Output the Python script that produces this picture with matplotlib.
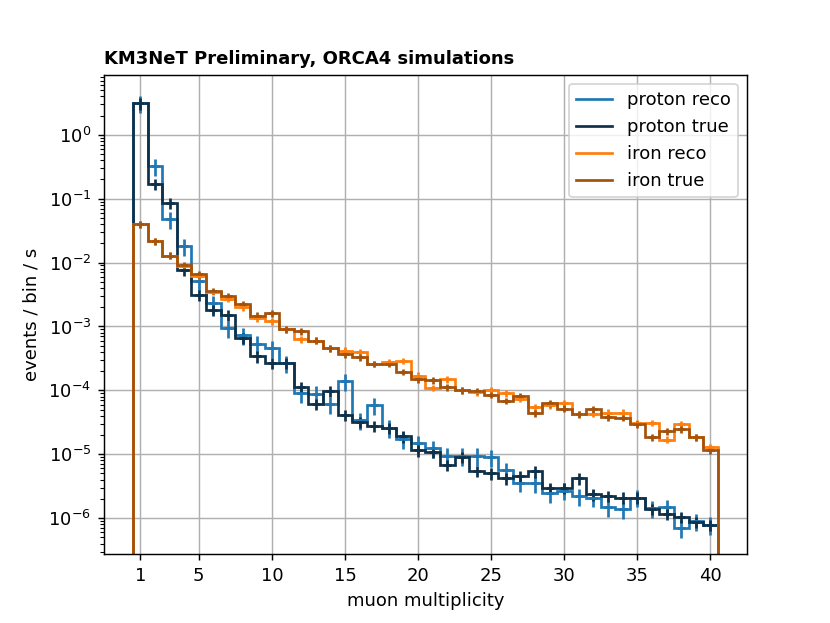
import numpy as np
import matplotlib
matplotlib.use('Agg')
import matplotlib.pyplot as plt

# muon multiplicity bins 1..40
multiplicity = list(range(1, 41))
bin_edges = [m - 0.5 for m in multiplicity] + [40.5]

# events / bin / s
proton_reco = [3.1, 0.32, 0.048, 0.018, 0.0052, 0.0023, 9.5e-4, 7.4e-4, 5.4e-4, 4.6e-4,
               2.7e-4, 9.1e-5, 8.9e-5, 6.1e-5, 1.38e-4, 3.4e-5, 5.9e-5, 2.6e-5, 1.74e-5, 1.5e-5,
               1.26e-5, 9.5e-6, 9.5e-6, 9.5e-6, 9.1e-6, 5.6e-6, 3.6e-6, 3.5e-6, 2.5e-6, 2.7e-6,
               2.2e-6, 2.1e-6, 1.5e-6, 1.4e-6, 2.1e-6, 1.45e-6, 1.5e-6, 7.1e-7, 8.9e-7, 7.9e-7]
proton_true = [3.1, 0.17, 0.085, 0.0076, 0.0031, 0.0018, 0.0015, 6.6e-4, 3.4e-4, 2.7e-4,
               2.7e-4, 1.12e-4, 6.2e-5, 9.8e-5, 4.1e-5, 3.2e-5, 2.75e-5, 2.6e-5, 1.9e-5, 1.15e-5,
               1.1e-5, 6.8e-6, 9.1e-6, 5.5e-6, 5.0e-6, 4.2e-6, 4.6e-6, 5.4e-6, 3.0e-6, 2.95e-6,
               4.2e-6, 2.35e-6, 2.24e-6, 2.1e-6, 2.1e-6, 1.38e-6, 1.15e-6, 1.05e-6, 8.7e-7, 7.9e-7]
iron_reco = [0.040, 0.0215, 0.0129, 0.0089, 0.0062, 0.0035, 0.0027, 0.0020, 0.00135, 0.0012,
             9.1e-4, 6.3e-4, 6.0e-4, 4.6e-4, 4.2e-4, 4.0e-4, 2.6e-4, 2.8e-4, 2.9e-4, 1.7e-4,
             1.1e-4, 1.48e-4, 1.0e-4, 9.3e-5, 1.02e-4, 9.1e-5, 7.4e-5, 5.4e-5, 5.8e-5, 6.3e-5,
             4.3e-5, 4.3e-5, 4.5e-5, 4.5e-5, 3.1e-5, 3.1e-5, 1.7e-5, 2.95e-5, 1.86e-5, 1.29e-5]
iron_true = [0.040, 0.0215, 0.0129, 0.0091, 0.0066, 0.0036, 0.0030, 0.00224, 0.00148, 0.00162,
             9.1e-4, 8.5e-4, 6.0e-4, 4.6e-4, 3.7e-4, 3.3e-4, 2.6e-4, 2.6e-4, 1.95e-4, 1.48e-4,
             1.45e-4, 1.12e-4, 1.0e-4, 9.8e-5, 8.5e-5, 6.9e-5, 8.1e-5, 4.4e-5, 6.3e-5, 5.2e-5,
             4.2e-5, 5.1e-5, 3.8e-5, 3.7e-5, 2.95e-5, 1.86e-5, 2.3e-5, 2.45e-5, 1.86e-5, 1.15e-5]

# rough relative statistical uncertainty of each sample
rel_err = {'proton reco': 0.3, 'proton true': 0.2, 'iron reco': 0.12, 'iron true': 0.12}

series = [
    ('proton reco', proton_reco, '#1f77b4'),
    ('proton true', proton_true, '#0e3049'),
    ('iron reco', iron_reco, '#ff7f0e'),
    ('iron true', iron_true, '#a3520c'),
]

fig, ax = plt.subplots(figsize=(830 / 130, 623 / 130), dpi=130)

for label, vals, col in series:
    vals = np.array(vals)
    ax.stairs(vals, bin_edges, baseline=0, color=col, lw=1.5, label=label)
    ax.errorbar(multiplicity, vals, yerr=vals * rel_err[label], fmt='_', color=col,
                ms=4, mew=1.5, elinewidth=1.5, capsize=0)

ax.set_yscale('log')
ax.set_ylim(2.7e-7, 8.7)
ax.set_xlim(-1.5, 42.5)
ax.set_xticks([1, 5, 10, 15, 20, 25, 30, 35, 40])
ax.grid(True)
ax.set_axisbelow(True)
ax.set_xlabel('muon multiplicity')
ax.set_ylabel('events / bin / s')
ax.set_title('KM3NeT Preliminary, ORCA4 simulations', loc='left', fontweight='bold',
             fontsize=10)
ax.legend(loc='upper right')

plt.savefig('out.png', dpi=130)
